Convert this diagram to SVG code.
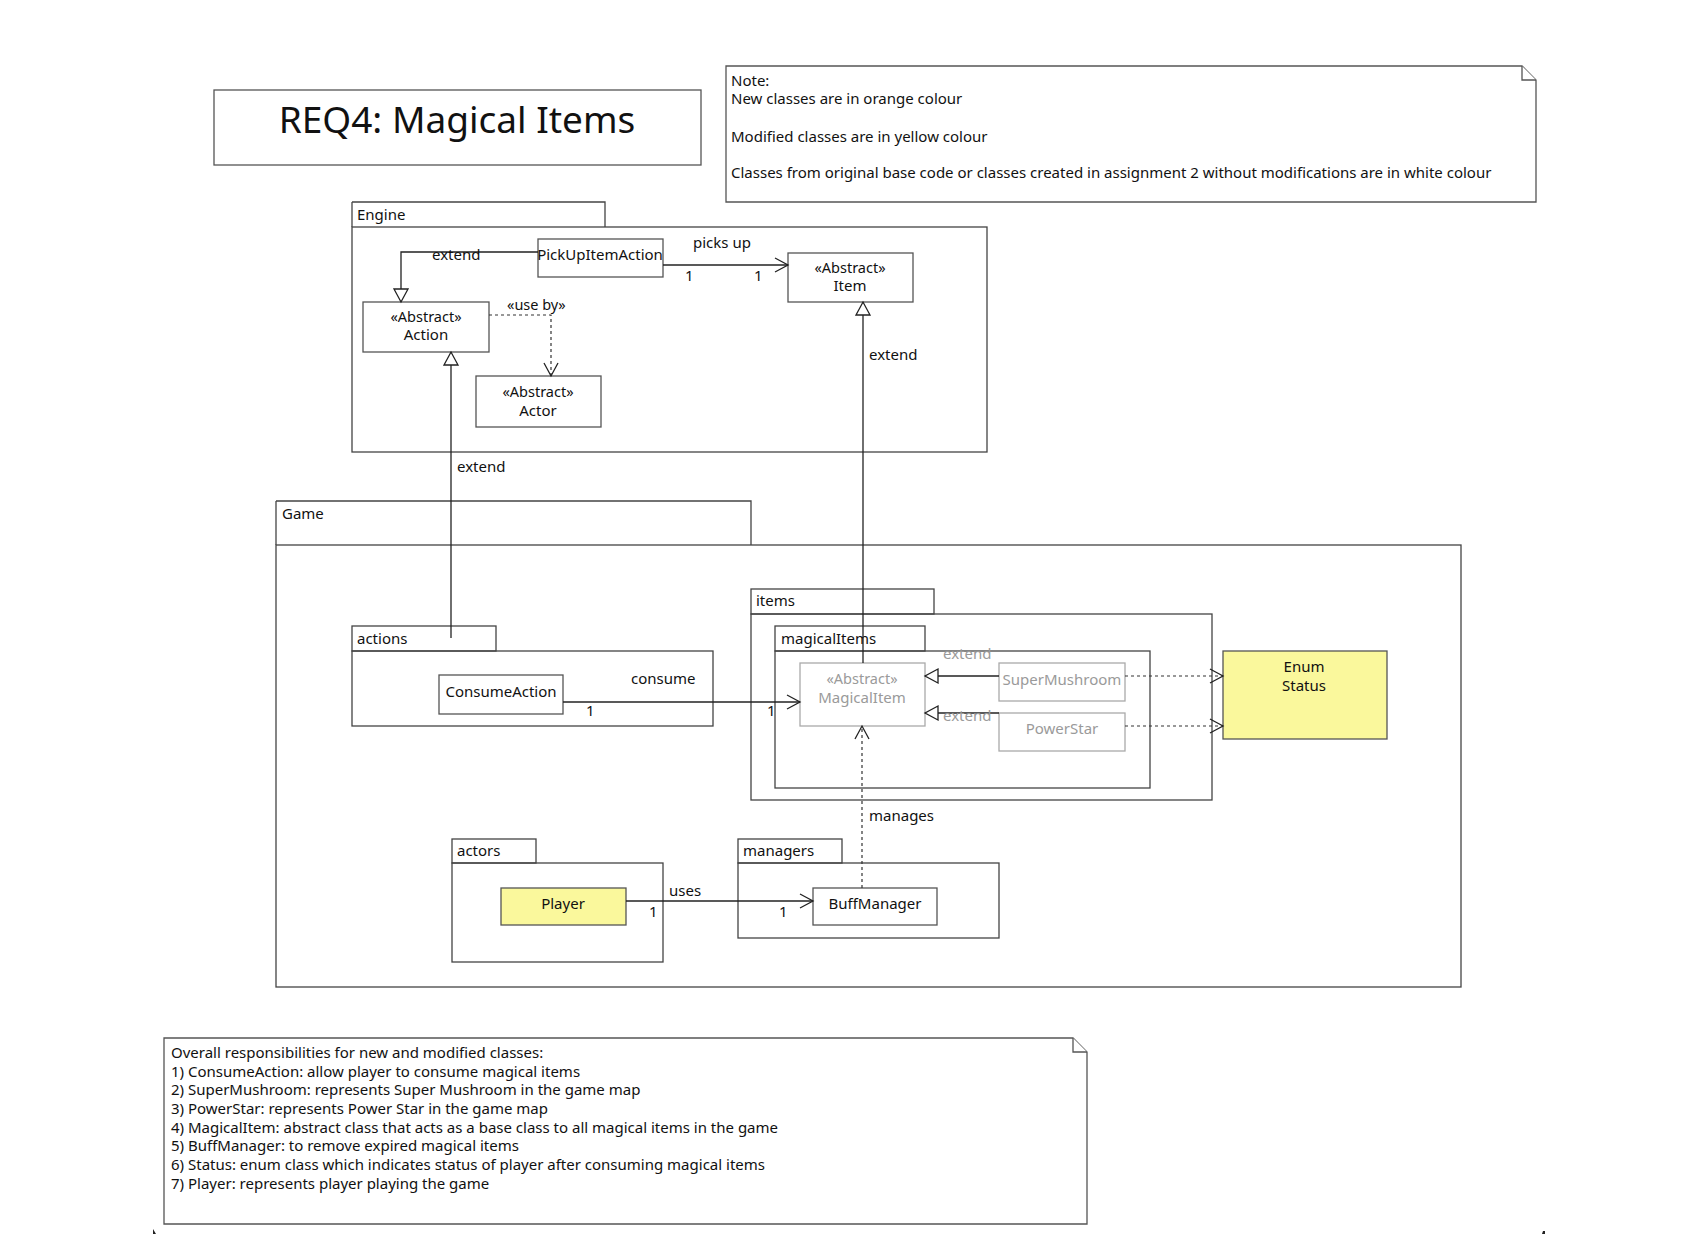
<svg xmlns="http://www.w3.org/2000/svg" width="1686" height="1254" viewBox="0 0 1686 1254">
<defs>
<style>
text{font-family:"Noto Sans","Open Sans","DejaVu Sans",sans-serif;fill:#111;}
.lbl{font-size:15px;}
.cls{font-size:15px;text-anchor:middle;}
.ster{font-size:14.5px;}
.note{font-size:15px;}
.box{fill:#fff;stroke:#555;stroke-width:1.3;}
.gbox{fill:#fff;stroke:#aaa;stroke-width:1.3;}
.yel{fill:#faf89c;stroke:#555;stroke-width:1.3;}
.pkg{fill:none;stroke:#444;stroke-width:1.3;}
.gray{fill:#9a9a9a;}
.ln{fill:none;stroke:#222;stroke-width:1.3;}
.dash{fill:none;stroke:#333;stroke-width:1.2;stroke-dasharray:3,3;}
</style>
<marker id="tri" markerUnits="userSpaceOnUse" markerWidth="18" markerHeight="18" refX="14" refY="8" orient="auto">
<path d="M1,1 L14,8 L1,15 Z" fill="#fff" stroke="#222" stroke-width="1.3"/>
</marker>
<marker id="open" markerUnits="userSpaceOnUse" markerWidth="18" markerHeight="18" refX="14" refY="8" orient="auto">
<path d="M1,1 L14,8 L1,15" fill="none" stroke="#222" stroke-width="1.3"/>
</marker>
</defs>
<rect width="1686" height="1254" fill="#fff"/>

<g id="title">
<rect x="214" y="90" width="487" height="75" class="box"/>
<text x="457" y="133" style="font-size:37px;text-anchor:middle">REQ4: Magical Items</text>
</g>

<g id="note-legend">
<path d="M726,66 H1522 L1536,80 V202 H726 Z" class="box"/>
<path d="M1522,66 V80 H1536" class="box"/>
<text class="note" x="731" y="86">Note:</text>
<text class="note" x="731" y="104">New classes are in orange colour</text>
<text class="note" x="731" y="142">Modified classes are in yellow colour</text>
<text class="note" x="731" y="178">Classes from original base code or classes created in assignment 2 without modifications are in white colour</text>
</g>

<g id="pkg-engine">
<path d="M352,202 H605 V227" class="pkg"/>
<rect x="352" y="227" width="635" height="225" class="pkg"/>
<path d="M352,202 V227" class="pkg"/>
<text class="lbl" x="357" y="220">Engine</text>
</g>

<g id="pkg-game">
<path d="M276,501 H751 V545" class="pkg"/>
<path d="M276,501 V545" class="pkg"/>
<rect x="276" y="545" width="1185" height="442" class="pkg"/>
<text class="lbl" x="282" y="519">Game</text>
</g>

<g id="pkg-actions">
<rect x="352" y="626" width="144" height="25" class="pkg"/>
<rect x="352" y="651" width="361" height="75" class="pkg"/>
<text class="lbl" x="357" y="644">actions</text>
</g>

<g id="pkg-items">
<rect x="751" y="589" width="183" height="25" class="pkg"/>
<rect x="751" y="614" width="461" height="186" class="pkg"/>
<text class="lbl" x="756" y="606">items</text>
</g>

<g id="pkg-magicalItems">
<rect x="775" y="626" width="150" height="25" class="pkg"/>
<rect x="775" y="651" width="375" height="137" class="pkg"/>
<text class="lbl" x="781" y="644">magicalItems</text>
</g>

<g id="pkg-actors">
<rect x="452" y="839" width="84" height="24" class="pkg"/>
<rect x="452" y="863" width="211" height="99" class="pkg"/>
<text class="lbl" x="457" y="856">actors</text>
</g>

<g id="pkg-managers">
<rect x="738" y="839" width="104" height="24" class="pkg"/>
<rect x="738" y="863" width="261" height="75" class="pkg"/>
<text class="lbl" x="743" y="856">managers</text>
</g>

<g id="PickUpItemAction">
<rect x="538" y="239" width="125" height="38" class="box"/>
<text class="cls" x="600" y="260">PickUpItemAction</text>
</g>

<g id="Item">
<rect x="788" y="253" width="125" height="49" class="box"/>
<text class="cls ster" x="850" y="273">«Abstract»</text>
<text class="cls" x="850" y="291">Item</text>
</g>

<g id="Action">
<rect x="363" y="302" width="126" height="50" class="box"/>
<text class="cls ster" x="426" y="322">«Abstract»</text>
<text class="cls" x="426" y="340">Action</text>
</g>

<g id="Actor">
<rect x="476" y="376" width="125" height="51" class="box"/>
<text class="cls ster" x="538" y="397">«Abstract»</text>
<text class="cls" x="538" y="416">Actor</text>
</g>

<g id="ConsumeAction">
<rect x="439" y="675" width="124" height="39" class="box"/>
<text class="cls" x="501" y="697">ConsumeAction</text>
</g>

<g id="MagicalItem">
<rect x="800" y="663" width="125" height="63" class="gbox"/>
<text class="cls ster gray" x="862" y="684">«Abstract»</text>
<text class="cls gray" x="862" y="703">MagicalItem</text>
</g>

<g id="SuperMushroom">
<rect x="999" y="663" width="126" height="38" class="gbox"/>
<text class="cls gray" x="1062" y="685">SuperMushroom</text>
</g>

<g id="PowerStar">
<rect x="999" y="713" width="126" height="38" class="gbox"/>
<text class="cls gray" x="1062" y="734">PowerStar</text>
</g>

<g id="Status">
<rect x="1223" y="651" width="164" height="88" class="yel"/>
<text class="cls" x="1304" y="672">Enum</text>
<text class="cls" x="1304" y="691">Status</text>
</g>

<g id="Player">
<rect x="501" y="888" width="125" height="37" class="yel"/>
<text class="cls" x="563" y="909">Player</text>
</g>

<g id="BuffManager">
<rect x="813" y="888" width="124" height="37" class="box"/>
<text class="cls" x="875" y="909">BuffManager</text>
</g>

<g id="connectors">
<polyline points="538,252 401,252 401,302" class="ln" marker-end="url(#tri)"/>
<text class="lbl" x="432" y="260">extend</text>

<line x1="663" y1="265" x2="788" y2="265" class="ln" marker-end="url(#open)"/>
<text class="lbl" x="693" y="248">picks up</text>
<text class="lbl" x="685" y="281">1</text>
<text class="lbl" x="754" y="281">1</text>

<polyline points="489,315 551,315 551,376" class="dash" marker-end="url(#open)"/>
<text class="lbl ster" x="507" y="310">«use by»</text>

<line x1="863" y1="663" x2="863" y2="302" class="ln" marker-end="url(#tri)"/>
<text class="lbl" x="869" y="360">extend</text>

<line x1="451" y1="638" x2="451" y2="352" class="ln" marker-end="url(#tri)"/>
<text class="lbl" x="457" y="472">extend</text>

<line x1="563" y1="702" x2="800" y2="702" class="ln" marker-end="url(#open)"/>
<text class="lbl" x="631" y="684">consume</text>
<text class="lbl" x="586" y="716">1</text>
<text class="lbl" x="767" y="716">1</text>

<line x1="999" y1="676" x2="925" y2="676" class="ln" marker-end="url(#tri)"/>
<text class="lbl gray" x="943" y="659">extend</text>
<line x1="999" y1="713" x2="925" y2="713" class="ln" marker-end="url(#tri)"/>
<text class="lbl gray" x="943" y="721">extend</text>

<line x1="1125" y1="676" x2="1223" y2="676" class="dash" marker-end="url(#open)"/>
<line x1="1125" y1="726" x2="1223" y2="726" class="dash" marker-end="url(#open)"/>

<line x1="862" y1="888" x2="862" y2="726" class="dash" marker-end="url(#open)"/>
<text class="lbl" x="869" y="821">manages</text>

<line x1="626" y1="901" x2="813" y2="901" class="ln" marker-end="url(#open)"/>
<text class="lbl" x="669" y="896">uses</text>
<text class="lbl" x="649" y="917">1</text>
<text class="lbl" x="779" y="917">1</text>
</g>

<g id="note-responsibilities">
<path d="M164,1038 H1073 L1087,1052 V1224 H164 Z" class="box"/>
<path d="M1073,1038 V1052 H1087" class="box"/>
<text class="note" x="171" y="1058">Overall responsibilities for new and modified classes:</text>
<text class="note" x="171" y="1077">1) ConsumeAction: allow player to consume magical items</text>
<text class="note" x="171" y="1095">2) SuperMushroom: represents Super Mushroom in the game map</text>
<text class="note" x="171" y="1114">3) PowerStar: represents Power Star in the game map</text>
<text class="note" x="171" y="1133">4) MagicalItem: abstract class that acts as a base class to all magical items in the game</text>
<text class="note" x="171" y="1151">5) BuffManager: to remove expired magical items</text>
<text class="note" x="171" y="1170">6) Status: enum class which indicates status of player after consuming magical items</text>
<text class="note" x="171" y="1189">7) Player: represents player playing the game</text>
</g>

<path d="M153,1229 L156,1234 L153,1234 Z" fill="#222"/>
<path d="M1543,1231 L1545,1231 L1545,1234 L1542,1234 Z" fill="#222"/>
</svg>
